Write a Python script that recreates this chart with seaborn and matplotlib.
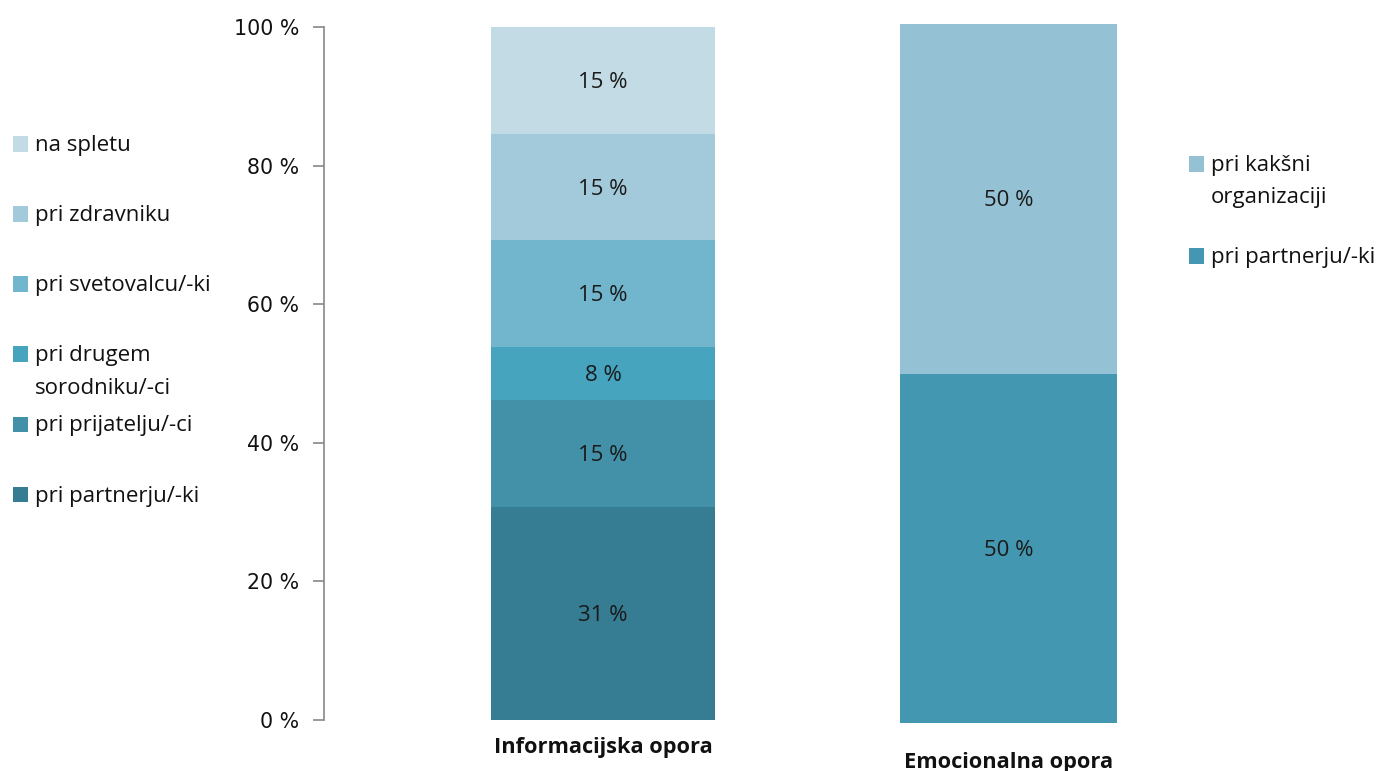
import matplotlib
matplotlib.use("Agg")
import matplotlib.pyplot as plt
from matplotlib.patches import Rectangle
import pandas as pd
import seaborn as sns

# Informational support: sources, shares (%) and colours, bottom to top
info_category = "Informacijska opora"
info_sources = ["pri partnerju/-ki", "pri prijatelju/-ci", "pri drugem\nsorodniku/-ci",
                "pri svetovalcu/-ki", "pri zdravniku", "na spletu"]
info_values = [30.77, 15.38, 7.69, 15.38, 15.38, 15.38]
info_colors = ["#367c92", "#4291a9", "#46a4bf", "#71b6cd", "#a2cadb", "#c3dbe4"]

# Emotional support
emo_category = "Emocionalna opora"
emo_sources = ["pri partnerju/-ki", "pri kakšni\norganizaciji"]
emo_values = [50.0, 50.0]
emo_colors = ["#4397b0", "#94c2d4"]

y_ticks = [0, 20, 40, 60, 80, 100]
y_tick_labels = ["0 %", "20 %", "40 %", "60 %", "80 %", "100 %"]

sns.set_theme(style="white")
plt.rcParams["font.family"] = ["Open Sans", "DejaVu Sans"]

W, H = 1389, 771
fig = plt.figure(figsize=(W / 100, H / 100), dpi=100)

TXT = 16


def px_axes(left, right, top, bottom):
    return fig.add_axes([left / W, 1 - bottom / H, (right - left) / W, (bottom - top) / H])


def stacked(ax, category, values, colors, width):
    df = pd.DataFrame({"kategorija": [category] * len(values), "delež": values})
    base = 0.0
    for i, (val, col) in enumerate(zip(values, colors)):
        sns.barplot(data=df.iloc[[i]], x="kategorija", y="delež", color=col,
                    width=width, bottom=base, saturation=1, ax=ax,
                    edgecolor="none", linewidth=0)
        ax.text(0, base + val / 2 - 0.3, f"{val:.0f} %", ha="center", va="center",
                fontsize=TXT, color="#1a1a1a")
        base += val
    ax.set_xlim(-0.5, 0.5)
    ax.set_ylim(0, 100)
    ax.set_xlabel("")
    ax.set_ylabel("")
    for lbl in ax.get_xticklabels():
        lbl.set_fontweight("bold")
        lbl.set_fontsize(15.7)
        lbl.set_color("#111111")


# Left chart with the percentage axis
ax1 = px_axes(324, 882, 27, 720)
stacked(ax1, info_category, info_values, info_colors, 224 / 558)
ax1.set_yticks(y_ticks)
ax1.set_yticklabels(y_tick_labels, fontsize=14.8, color="#111111",
                    family=["DejaVu Sans"])
for s in ["top", "right", "bottom"]:
    ax1.spines[s].set_visible(False)
ax1.spines["left"].set_color("#888888")
ax1.spines["left"].set_linewidth(1.2)
ax1.tick_params(axis="y", direction="out", length=8, width=1.2, color="#888888", pad=10, left=True)
ax1.tick_params(axis="x", length=0, pad=12)

# Right chart without an axis
ax2 = px_axes(791.5, 1225.5, 24, 723)
stacked(ax2, emo_category, emo_values, emo_colors, 0.5)
ax2.set_yticks([])
for s in ax2.spines.values():
    s.set_visible(False)
ax2.tick_params(axis="x", length=0, pad=21)


def legend(labels, colors, x, y_first, dy):
    for i, (lab, col) in enumerate(zip(labels, colors)):
        yc = y_first + i * dy
        fig.patches.append(Rectangle(((x) / W, 1 - (yc + 7.5) / H), 15 / W, 15 / H,
                                     transform=fig.transFigure, facecolor=col,
                                     edgecolor="none"))
        for j, line in enumerate(lab.split("\n")):
            fig.text((x + 22) / W, 1 - (yc + 2 + j * 32) / H, line, ha="left", va="center",
                     fontsize=TXT, color="#111111")


legend(info_sources[::-1], info_colors[::-1], 13, 144, 70)
legend(emo_sources[::-1], emo_colors[::-1], 1189, 164, 92)

fig.savefig("out.png", dpi=100)
